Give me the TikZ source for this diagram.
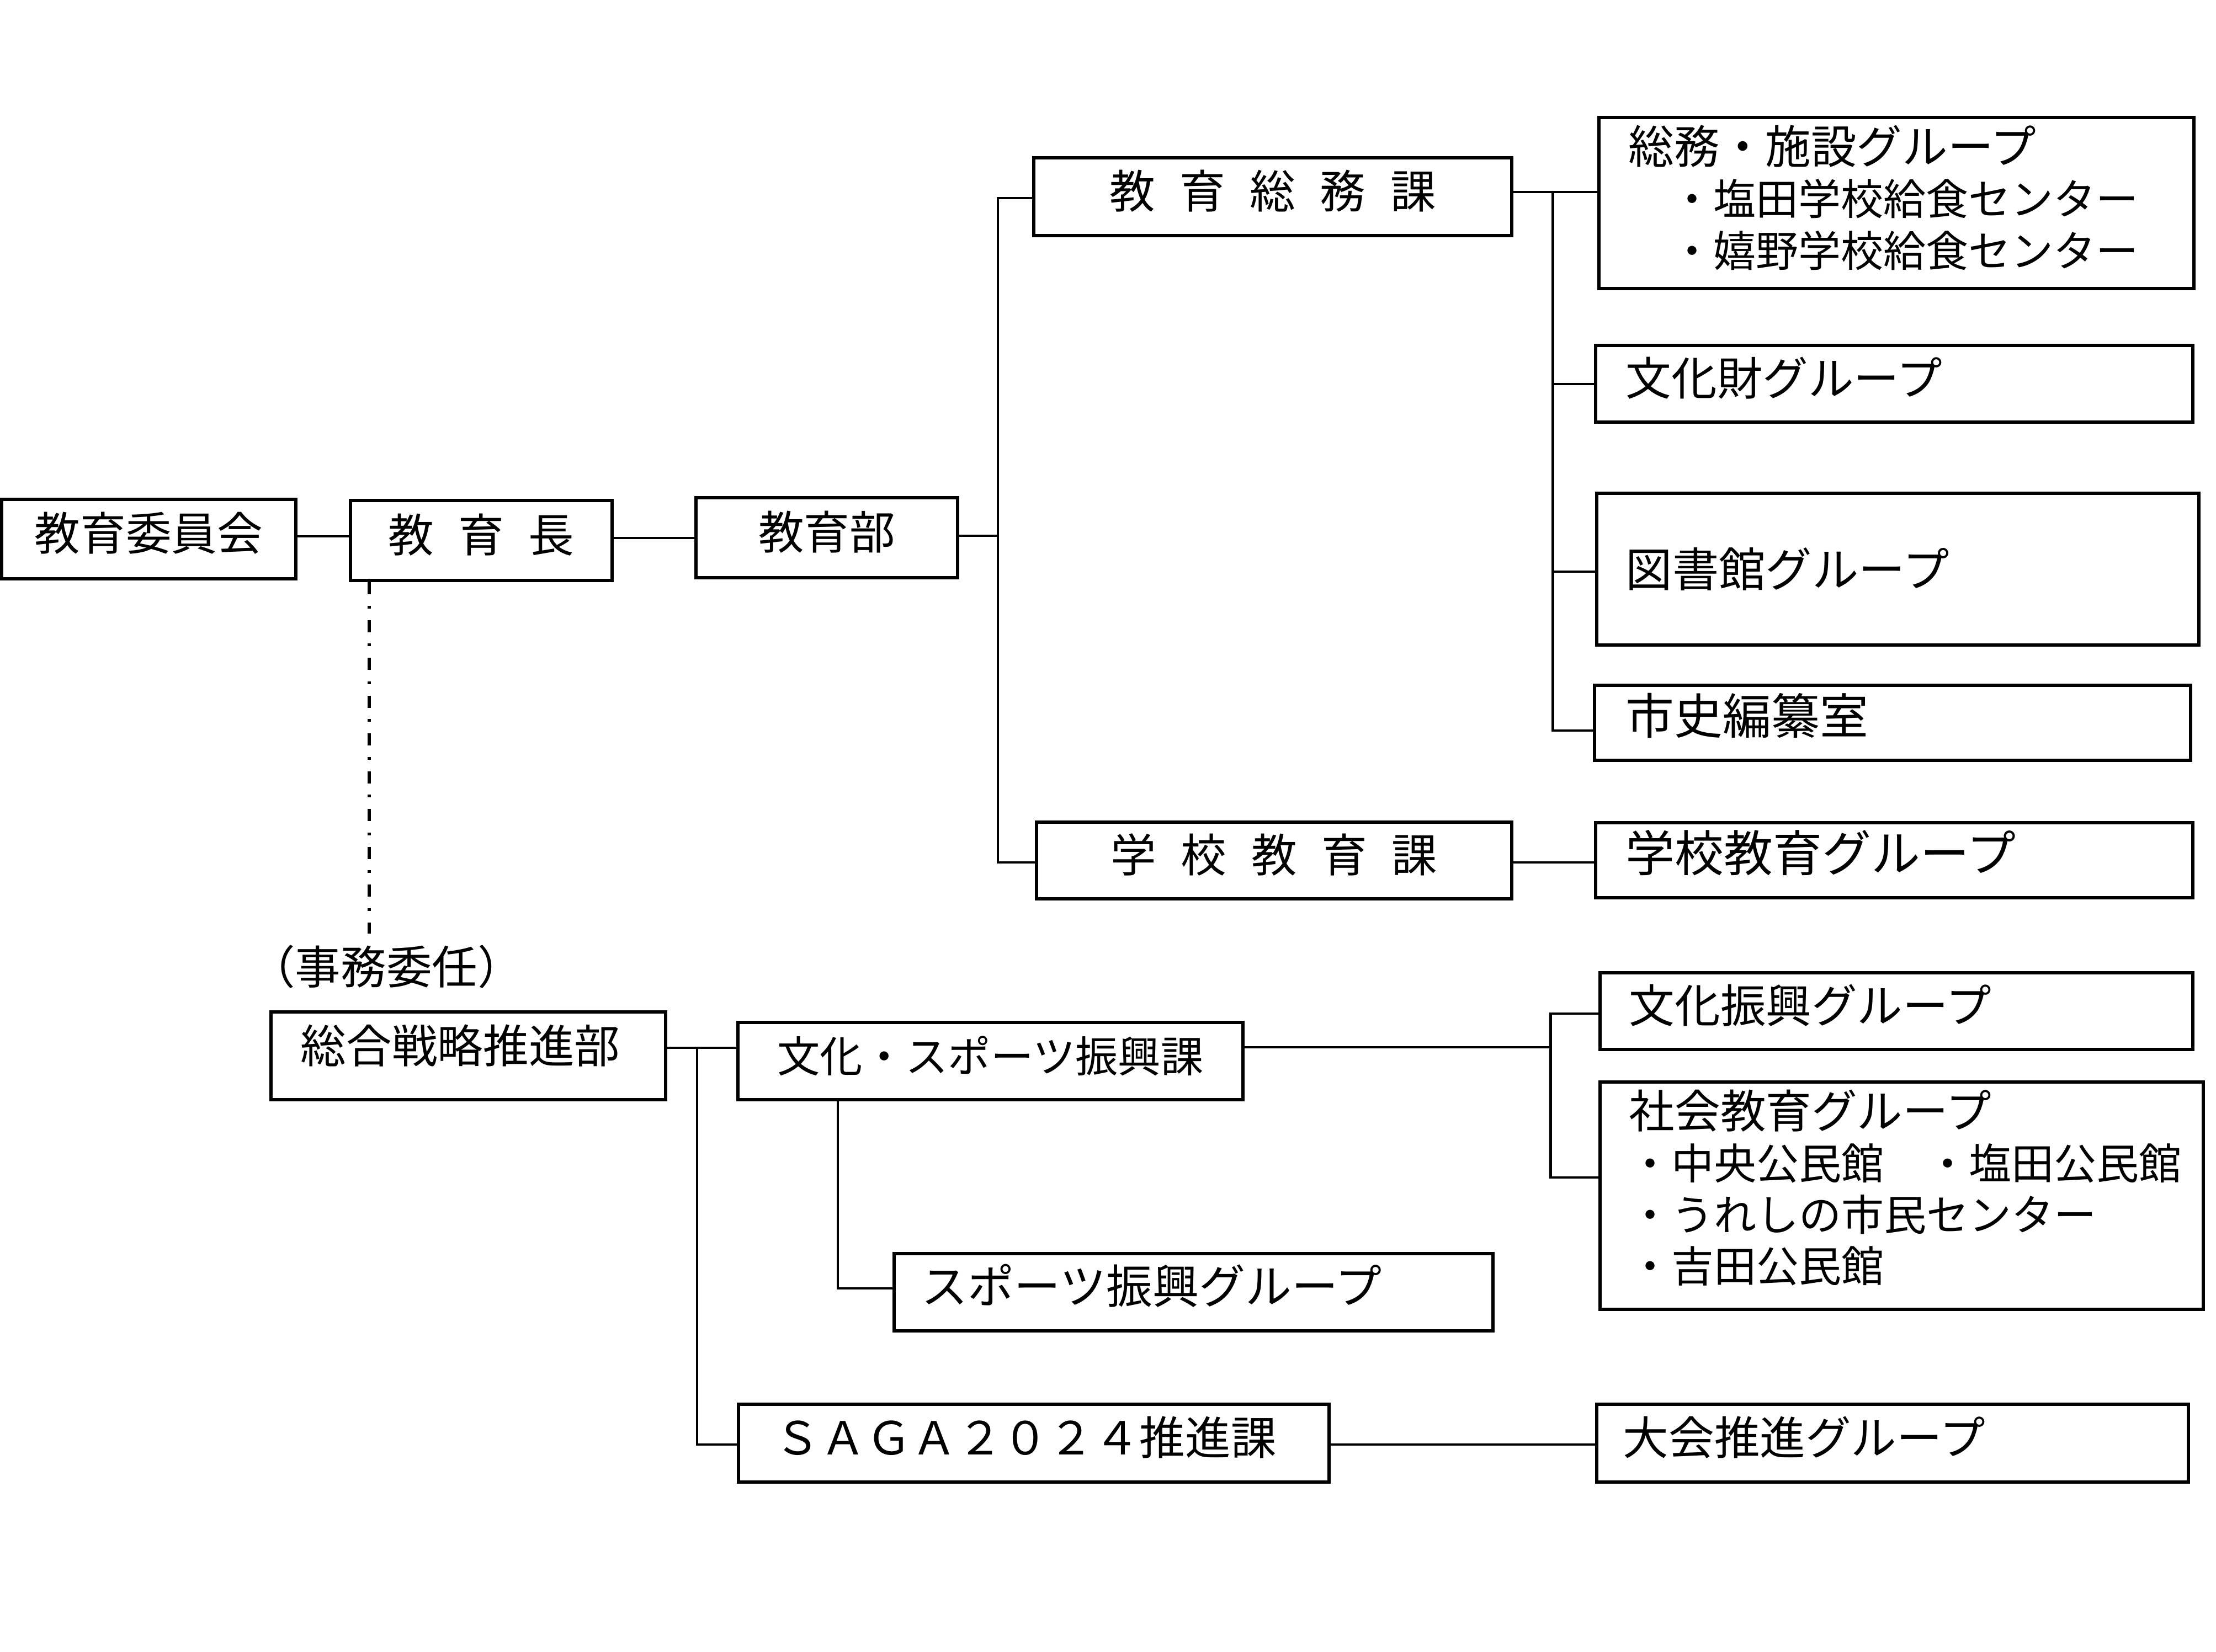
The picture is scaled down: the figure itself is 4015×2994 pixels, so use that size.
\documentclass[tikz,border=0pt]{standalone}
\usepackage{fontspec}
\newfontfamily\jp{Noto Sans CJK JP}
\newcommand\subl{\fontsize{21.9}{26.5}\selectfont}
\newcommand\widesp{\spaceskip 0.54em\relax}
\tikzset{
  box/.style={draw, line width=1.7pt, inner sep=0pt, font=\jp\fontsize{23.5}{26.5}\selectfont},
  one/.style={text height=0.70cm, text depth=0.29cm},
  spaced/.style={font=\jp\fontsize{23.5}{26.5}\selectfont\widesp},
  grp/.style={box, align=left},
  conn/.style={line width=1.4pt},
  dashdot/.style={line width=1.7pt, dash pattern=on 0.22cm off 0.205cm on 0.05cm off 0.21cm},
  plain/.style={inner sep=0pt, font=\jp\fontsize{23.5}{26.5}\selectfont}
}
\begin{document}
\begin{tikzpicture}[x=0.01cm,y=-0.01cm]
\fill[white] (0,0) rectangle (4015,2994);
\useasboundingbox (0,0) rectangle (4015,2994);

% upper part
\node[box,one,minimum width=5.33cm,minimum height=1.44cm] (iinkai) at (269.5,977) {教育委員会};
\node[box,one,spaced,minimum width=4.74cm,minimum height=1.45cm] (kyoikucho) at (872,979.5) {教 育 長};
\node[box,one,minimum width=4.74cm,minimum height=1.45cm] (kyoikubu) at (1498,974.5) {教育部};
\node[box,one,spaced,minimum width=8.66cm,minimum height=1.41cm] (somuka) at (2306,356.5) {教 育 総 務 課};
\node[box,one,spaced,minimum width=8.61cm,minimum height=1.39cm] (gakkoka) at (2308.5,1559.5) {学 校 教 育 課};

\node[grp,text depth=2.12cm,text width=9.70cm,minimum width=10.78cm,minimum height=3.10cm] (somug) at (3436,368)
  {総務・施設グループ\\{\subl\hspace*{1.0em}・塩田学校給食センター}\\{\subl\hspace*{1.0em}・嬉野学校給食センター}};
\node[grp,one,text width=9.72cm,minimum width=10.82cm,minimum height=1.39cm] (bunkazai) at (3432,695.5) {文化財グループ};
\node[grp,text width=9.85cm,minimum width=10.91cm,minimum height=2.75cm,font=\jp\fontsize{24}{26.5}\selectfont] (tosho) at (3438.5,1031.5) {図書館グループ};
\node[grp,one,text width=9.66cm,minimum width=10.80cm,minimum height=1.36cm,font=\jp\fontsize{25}{26.5}\selectfont] (shishi) at (3429,1310) {市史編纂室};
\node[grp,one,text width=9.72cm,minimum width=10.82cm,minimum height=1.36cm,font=\jp\fontsize{25.3}{26.5}\selectfont] (gakkog) at (3432,1559) {学校教育グループ};

% lower part
\node[plain] (jimu) at (700,1752) {（事務委任）};
\node[grp,text width=6.07cm,minimum width=7.15cm,minimum height=1.59cm,text height=0.70cm,text depth=0.45cm] (senryaku) at (848.5,1913.5) {総合戦略推進部};
\node[box,one,font=\jp\fontsize{22}{26.5}\selectfont,minimum width=9.15cm,minimum height=1.40cm] (bunspo) at (1794.5,1923) {文化・スポーツ振興課};
\node[grp,one,text width=9.85cm,minimum width=10.85cm,minimum height=1.40cm,font=\jp\fontsize{23.9}{26.5}\selectfont] (sportsg) at (2162.5,2342) {スポーツ振興グループ};
\node[grp,one,text width=9.38cm,minimum width=10.70cm,minimum height=1.41cm] (saga) at (1873,2615.5) {ＳＡＧＡ２０２４推進課};
\node[grp,one,text width=9.68cm,minimum width=10.74cm,minimum height=1.39cm] (bunshin) at (3436,1832.5) {文化振興グループ};
\node[grp,text depth=3.15cm,text width=9.87cm,minimum width=10.93cm,minimum height=4.12cm] (shakai) at (3445.5,2167)
  {社会教育グループ\\{\subl ・中央公民館　・塩田公民館}\\{\subl ・うれしの市民センター}\\{\subl ・吉田公民館}};
\node[grp,one,text width=9.76cm,minimum width=10.72cm,minimum height=1.41cm] (taikai) at (3429,2615.5) {大会推進グループ};

% bus coordinates
\coordinate (bus1) at (1808,0);
\coordinate (bus2) at (2813,0);
\coordinate (bus3) at (1263,0);
\coordinate (bus4) at (1518,0);
\coordinate (bus5) at (2809,0);
\coordinate (dashx) at (669,0);
\coordinate (dashend) at (669,1692);

% connectors upper
\draw[conn] (iinkai.east |- 0,972) -- (kyoikucho.west |- 0,972);
\draw[conn] (kyoikucho.east |- 0,975) -- (kyoikubu.west |- 0,975);
\draw[conn] (kyoikubu.east |- 0,971) -- (bus1 |- 0,971);
\draw[conn] (somuka.west |- 0,359) -| (bus1 |- 0,1563) -- (gakkoka.west |- 0,1563);
\draw[conn] (somuka.east |- 0,348) -- (somug.west |- 0,348);
\draw[conn] (bus2 |- 0,348) |- (shishi.west |- 0,1324);
\draw[conn] (bus2 |- 0,696) -- (bunkazai.west |- 0,696);
\draw[conn] (bus2 |- 0,1036) -- (tosho.west |- 0,1036);
\draw[conn] (gakkoka.east |- 0,1563) -- (gakkog.west |- 0,1563);

% dash-dot line
\draw[dashdot] (kyoikucho.south -| dashx) -- (dashend);

% connectors lower
\draw[conn] (senryaku.east |- 0,1899) -- (bunspo.west |- 0,1899);
\draw[conn] (bus3 |- 0,1899) |- (saga.west |- 0,2618);
\draw[conn] (bus4 |- bunspo.south) |- (sportsg.west |- 0,2335);
\draw[conn] (bunspo.east |- 0,1898) -- (bus5 |- 0,1898);
\draw[conn] (bunshin.west |- 0,1837) -| (bus5 |- 0,2134) -- (shakai.west |- 0,2134);
\draw[conn] (saga.east |- 0,2618) -- (taikai.west |- 0,2618);
\end{tikzpicture}
\end{document}
